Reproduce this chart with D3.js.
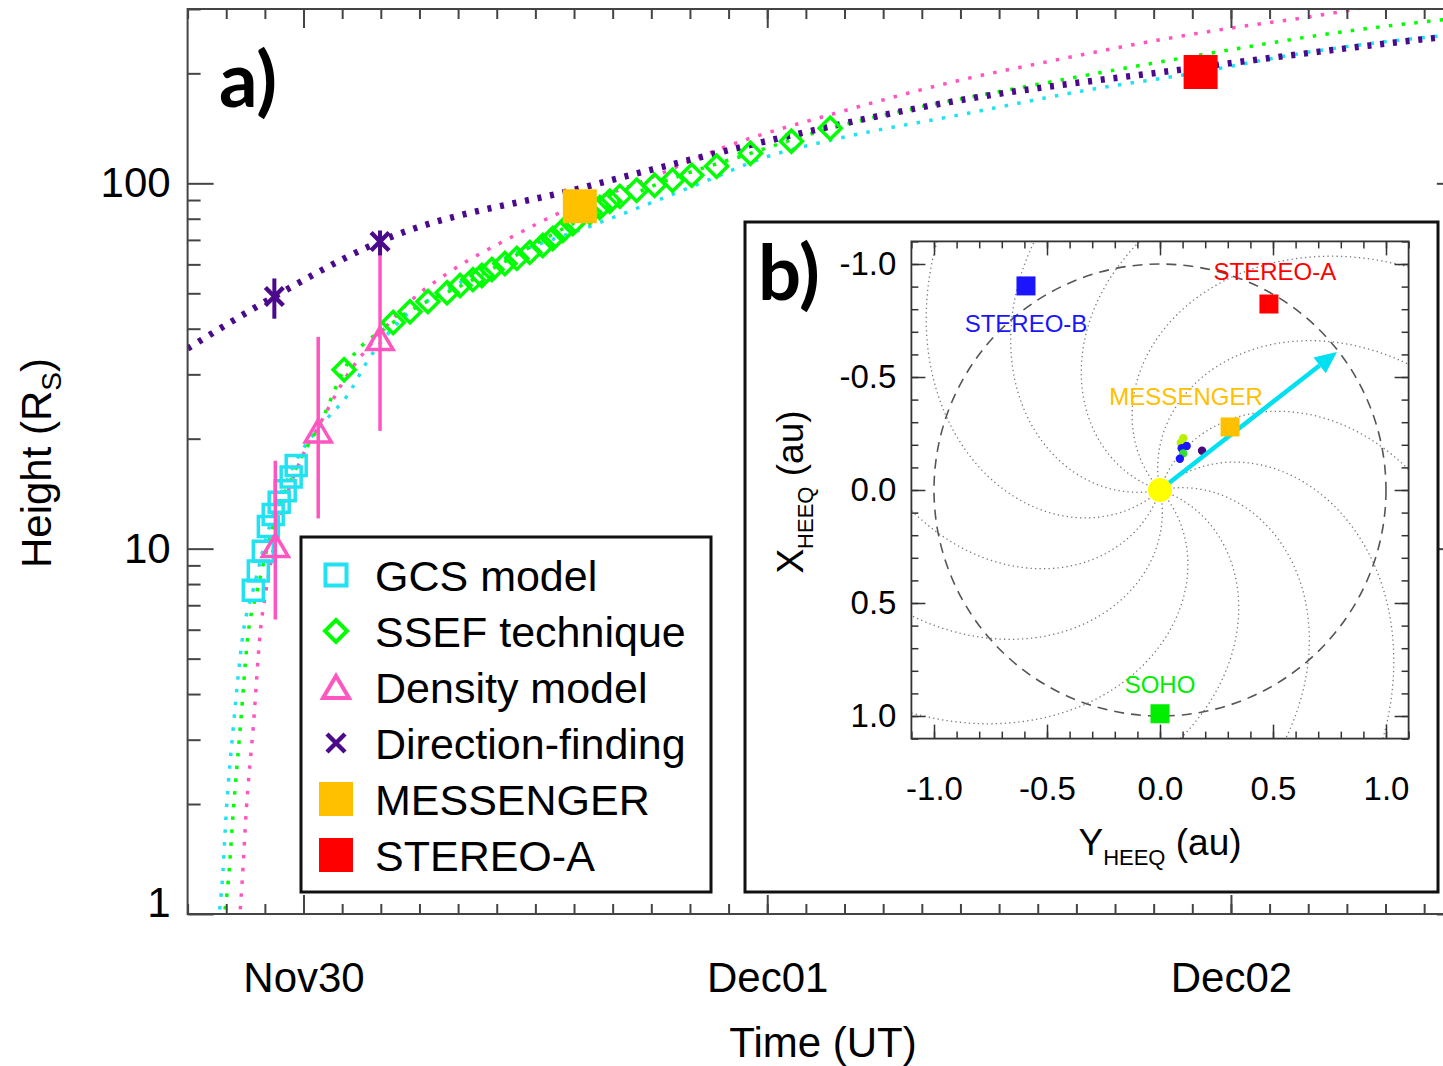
<!DOCTYPE html>
<html>
<head>
<meta charset="utf-8">
<script src="https://cdn.jsdelivr.net/npm/d3@7"></script>
<style>
body{margin:0;background:#fff;}
svg{display:block;font-family:"Liberation Sans",Arial,Helvetica,sans-serif;}
</style>
</head>
<body>
<svg id="chart" width="1443" height="1066"></svg>
<script>
// time is hours after 2013-11-30 00:00 UT, height in solar radii
var gcsData = [[-2.60,7.69],[-2.34,8.68],[-2.08,9.84],[-1.82,11.5],[-1.57,12.4],[-1.26,13.4],[-0.95,14.4],[-0.64,15.7],[-0.38,16.9]];
var ssefData = [[2.10,30.9],[4.64,41.6],[5.51,44.5],[6.44,47.5],[7.43,50.2],[8.10,52.5],[8.77,54.5],[9.23,55.9],[9.75,58.1],
  [10.42,60.3],[11.04,62.3],[11.71,64.7],[12.38,67.6],[12.90,70.6],[13.42,74.3],[13.94,77.6],[14.82,83.2],[15.33,85.9],
  [15.85,89.3],[16.37,92.1],[17.24,95.7],[18.17,98.8],[19.10,101.9],[20.09,105.2],[21.38,111.3],[23.13,120.8],[25.25,130.3],[27.26,141.5]];
// [time, height, low, high]
var densityData = [[-1.46,10.2,6.4,17.4],[0.76,21.0,12.1,38.0],[3.96,37.6,21.0,72.9]];
var dfData = [[-1.51,49.0,42.6,54.9],[3.96,69.3,63.5,74.3]];
var messengerData = [[14.30,86.5]];
var stereoAData = [[46.43,201.6]];

// fitted curves
var gcsFit = [[-4.42,0.95],[-4.20,1.24],[-3.99,1.93],[-3.63,3.26],[-3.12,5.90],[-2.60,7.74],[-1.72,11.7],[-0.38,17.4],[1.22,22.7],
  [2.26,26.2],[3.29,32.5],[5.00,42.1],[7.58,51.5],[10.16,61.5],[14.96,76.7],[18.58,91.0],[21.16,103.2],[23.75,117.1],
  [27.72,132.8],[33.92,153.8],[41.16,182.2],[45.45,197.7],[52.37,230.1],[58.88,253.1],[60.0,256.0]];
var ssefFit = [[-4.16,0.95],[-3.89,1.24],[-3.63,1.93],[-3.27,3.26],[-2.86,5.90],[-2.44,7.50],[-1.62,11.3],[-0.27,17.1],[0.86,22.0],
  [2.10,30.9],[4.64,41.6],[8.77,54.5],[13.94,77.6],[18.17,98.8],[23.13,120.8],[27.26,141.5],[30.98,157.7],[37.54,184.6],
  [46.69,225.9],[54.08,261.2],[58.88,280.0],[60.0,284.0]];
var densityFit = [[-3.32,0.95],[-3.17,1.24],[-2.96,1.93],[-2.60,3.26],[-2.24,5.90],[-1.93,7.74],[-1.21,12.05],[-0.17,17.4],[0.76,21.5],
  [2.15,29.2],[3.96,38.8],[5.67,48.3],[7.43,56.6],[10.84,71.6],[13.42,83.8],[17.40,100.6],[21.79,125.6],[27.73,156.6],
  [33.57,189.3],[38.94,217.5],[44.27,246.8],[48.04,266.2],[52.38,287.3],[55.11,303.9]];
var dfFit = [[-6.0,35.3],[-1.51,49.0],[3.96,69.3],[14.30,96.9],[23.95,130.4],[33.41,166.8],[45.65,205.5],[58.57,250.0],[60.0,254.8]];

var xMajor = [0, 24, 48];
var xLabels = ['Nov30', 'Dec01', 'Dec02'];
var yMajor = [1, 10, 100];
var yMinor = [2,3,4,5,6,7,8,9,20,30,40,50,60,70,80,90,200,300];

var legendNames = ['GCS model', 'SSEF technique', 'Density model', 'Direction-finding', 'MESSENGER', 'STEREO-A'];

// inset b) positions in HEEQ [Y, X] au
var craftNames = ['STEREO-B', 'STEREO-A', 'MESSENGER', 'SOHO'];
var craftPos = [[-0.593,-0.903],[0.482,-0.823],[0.310,-0.279],[0.0,0.99]];
var craftColors = ['#1a14ff', '#ff0000', '#ffc000', '#00ee00'];
var cmeDirection = [0.783, -0.611];
var dotPos = [[0.103,-0.229],[0.092,-0.209],[0.096,-0.185],[0.118,-0.195],[0.103,-0.162],[0.088,-0.138],[0.186,-0.174]];
var dotColors = ['#b8f000','#b8f000','#1a14ff','#1a14ff','#33dd33','#1a14ff','#4b0a7a'];
var spiralStarts = [12,42,72,102,132,162,192,222,252,282,312,342];
var insetTicks = [-1.0,-0.5,0.0,0.5,1.0];

var C = {gcs:'#22e2f2', ssef:'#00ff00', dens:'#ff55c0', df:'#4b0a8c', mes:'#ffc000', sta:'#ff0000'};

var svg = d3.select('#chart');

function sqPath(s){ return 'M'+(-s/2)+','+(-s/2)+'h'+s+'v'+s+'h'+(-s)+'Z'; }
function diaPath(s){ return 'M0,'+(-s)+'L'+s+',0L0,'+s+'L'+(-s)+',0Z'; }
function triPath(w,h){ return 'M0,'+(-h/2)+'L'+(w/2)+','+(h/2)+'L'+(-w/2)+','+(h/2)+'Z'; }
function crossPath(s){ return 'M'+(-s)+','+(-s)+'L'+s+','+s+'M'+(-s)+','+s+'L'+s+','+(-s); }

// ---------- panel a ----------
var x = d3.scaleLinear().domain([-6, 60]).range([187.6, 1462.8]);
var y = d3.scaleLog().domain([1, 300]).range([914, 9]);

svg.append('clipPath').attr('id','clipA').append('rect')
    .attr('x', x(-6)).attr('y', y(300)).attr('width', x(60)-x(-6)).attr('height', y(1)-y(300));

var plot = svg.append('g').attr('clip-path','url(#clipA)');

var line = d3.line().x(function(d){ return x(d[0]); }).y(function(d){ return y(d[1]); }).curve(d3.curveMonotoneX);

[[densityFit, C.dens],[gcsFit, C.gcs],[ssefFit, C.ssef]].forEach(function(f){
    plot.append('path').attr('d', line(f[0])).attr('fill','none')
        .attr('stroke', f[1]).attr('stroke-width', 3.5).attr('stroke-dasharray','3.5,9.3');
});
plot.append('path').attr('d', line(dfFit)).attr('fill','none')
    .attr('stroke', C.df).attr('stroke-width', 6.5).attr('stroke-dasharray','4,8.8');

// markers
plot.selectAll('.gcs').data(gcsData).enter().append('path')
    .attr('d', sqPath(20)).attr('transform', function(d){ return 'translate('+x(d[0])+','+y(d[1])+')'; })
    .attr('fill','none').attr('stroke', C.gcs).attr('stroke-width', 3.5);

plot.selectAll('.ssef').data(ssefData).enter().append('path')
    .attr('d', diaPath(11)).attr('transform', function(d){ return 'translate('+x(d[0])+','+y(d[1])+')'; })
    .attr('fill','none').attr('stroke', C.ssef).attr('stroke-width', 3.5);

plot.selectAll('.densbar').data(densityData).enter().append('line')
    .attr('x1', function(d){ return x(d[0]); }).attr('x2', function(d){ return x(d[0]); })
    .attr('y1', function(d){ return y(d[2]); }).attr('y2', function(d){ return y(d[3]); })
    .attr('stroke', C.dens).attr('stroke-width', 3.5);
plot.selectAll('.dens').data(densityData).enter().append('path')
    .attr('d', triPath(26, 22)).attr('transform', function(d){ return 'translate('+x(d[0])+','+y(d[1])+')'; })
    .attr('fill','none').attr('stroke', C.dens).attr('stroke-width', 3.5).attr('stroke-linejoin','miter');

plot.selectAll('.dfbar').data(dfData).enter().append('line')
    .attr('x1', function(d){ return x(d[0]); }).attr('x2', function(d){ return x(d[0]); })
    .attr('y1', function(d){ return y(d[2]); }).attr('y2', function(d){ return y(d[3]); })
    .attr('stroke', C.df).attr('stroke-width', 4);
plot.selectAll('.df').data(dfData).enter().append('path')
    .attr('d', crossPath(9)).attr('transform', function(d){ return 'translate('+x(d[0])+','+y(d[1])+')'; })
    .attr('fill','none').attr('stroke', C.df).attr('stroke-width', 4.5);

plot.selectAll('.mes').data(messengerData).enter().append('path')
    .attr('d', sqPath(34)).attr('transform', function(d){ return 'translate('+x(d[0])+','+y(d[1])+')'; })
    .attr('fill', C.mes);
plot.selectAll('.sta').data(stereoAData).enter().append('path')
    .attr('d', sqPath(34)).attr('transform', function(d){ return 'translate('+x(d[0])+','+y(d[1])+')'; })
    .attr('fill', C.sta);

// axes of panel a
function styleAxis(g){
    g.select('.domain').remove();
    g.selectAll('.tick line').attr('stroke','#444').attr('stroke-width',2);
    g.selectAll('.tick text').attr('fill','#000').attr('font-size',42).attr('font-family','"Liberation Sans",Arial,sans-serif');
}
var xMinor = d3.range(-6, 61, 2);
svg.append('g').attr('transform','translate(0,'+y(1)+')')
    .call(d3.axisBottom(x).tickValues(xMinor).tickSize(-10).tickFormat('')).call(styleAxis);
svg.append('g').attr('transform','translate(0,'+y(1)+')')
    .call(d3.axisBottom(x).tickValues(xMajor).tickSize(-19).tickPadding(48)
        .tickFormat(function(d,i){ return xLabels[i]; })).call(styleAxis);
svg.append('g').attr('transform','translate(0,'+y(300)+')')
    .call(d3.axisTop(x).tickValues(xMinor).tickSize(-10).tickFormat('')).call(styleAxis);
svg.append('g').attr('transform','translate(0,'+y(300)+')')
    .call(d3.axisTop(x).tickValues(xMajor).tickSize(-19).tickFormat('')).call(styleAxis);

svg.append('g').attr('transform','translate('+x(-6)+',0)')
    .call(d3.axisLeft(y).tickValues(yMinor).tickSize(-13).tickFormat('')).call(styleAxis);
var yl = svg.append('g').attr('transform','translate('+x(-6)+',0)')
    .call(d3.axisLeft(y).tickValues(yMajor).tickSize(-26).tickPadding(17).tickFormat(d3.format('d'))).call(styleAxis);
yl.selectAll('.tick text').filter(function(d){ return d === 1; }).attr('dy','0.05em');
svg.append('g').attr('transform','translate('+x(60)+',0)')
    .call(d3.axisRight(y).tickValues(yMinor).tickSize(-13).tickFormat('')).call(styleAxis);
svg.append('g').attr('transform','translate('+x(60)+',0)')
    .call(d3.axisRight(y).tickValues(yMajor).tickSize(-26).tickFormat('')).call(styleAxis);

svg.append('rect').attr('x', x(-6)).attr('y', y(300)).attr('width', x(60)-x(-6)).attr('height', y(1)-y(300))
    .attr('fill','none').attr('stroke','#444').attr('stroke-width',2);

// axis titles
svg.append('text').attr('x', 823).attr('y', 1057).attr('text-anchor','middle')
    .attr('font-size', 42).text('Time (UT)');
var yt = svg.append('text').attr('transform','translate(51,463) rotate(-90)').attr('text-anchor','middle')
    .attr('font-size', 42);
yt.append('tspan').text('Height (R');
yt.append('tspan').attr('font-size', 28).attr('dy', 10).text('S');
yt.append('tspan').attr('dy', -10).text(')');

svg.append('text').attr('x', 219).attr('y', 107).attr('font-family','Lato, "Open Sans", sans-serif')
    .attr('font-weight', 'bold').attr('font-size', 76).text('a)');

// legend
svg.append('rect').attr('x', 301).attr('y', 537).attr('width', 410).attr('height', 355)
    .attr('fill','#fff').attr('stroke','#111').attr('stroke-width', 3);
var ly = d3.scaleLinear().domain([0, 5]).range([575, 855]);
var legendShapes = [
    {d: sqPath(21), fill:'none', stroke:C.gcs, w:4},
    {d: diaPath(11), fill:'none', stroke:C.ssef, w:4},
    {d: triPath(26,22), fill:'none', stroke:C.dens, w:4},
    {d: crossPath(9), fill:'none', stroke:C.df, w:4.5},
    {d: sqPath(34), fill:C.mes, stroke:'none', w:0},
    {d: sqPath(34), fill:C.sta, stroke:'none', w:0}
];
legendNames.forEach(function(name, i){
    var s = legendShapes[i];
    svg.append('path').attr('d', s.d).attr('transform','translate(336,'+ly(i)+')')
        .attr('fill', s.fill).attr('stroke', s.stroke).attr('stroke-width', s.w);
    svg.append('text').attr('x', 375).attr('y', ly(i) + 16).attr('font-size', 43).text(name);
});

// ---------- panel b ----------
svg.append('rect').attr('x', 745).attr('y', 222).attr('width', 693).attr('height', 670)
    .attr('fill','#fff').attr('stroke','#111').attr('stroke-width', 3);

var sx = d3.scaleLinear().domain([-1.1, 1.1]).range([911.4, 1408.6]);
var sy = d3.scaleLinear().domain([-1.1, 1.1]).range([241.4, 738.6]);

svg.append('clipPath').attr('id','clipB').append('rect')
    .attr('x', sx(-1.1)).attr('y', sy(-1.1)).attr('width', sx(1.1)-sx(-1.1)).attr('height', sy(1.1)-sy(-1.1));
var inset = svg.append('g').attr('clip-path','url(#clipB)');

// Parker spirals, 400 km/s -> about 61 deg of winding per au
var winding = 61;
var spiralLine = d3.line().x(function(p){ return sx(p[0]); }).y(function(p){ return sy(p[1]); });
spiralStarts.forEach(function(a0){
    var pts = d3.range(0, 1.62, 0.01).map(function(r){
        var a = (a0 - winding * r) * Math.PI / 180;
        return [r * Math.cos(a), -r * Math.sin(a)];
    });
    inset.append('path').attr('d', spiralLine(pts)).attr('fill','none')
        .attr('stroke','#777').attr('stroke-width', 1.3).attr('stroke-dasharray','1.3,3.2');
});

inset.append('circle').attr('cx', sx(0)).attr('cy', sy(0)).attr('r', sx(1) - sx(0))
    .attr('fill','none').attr('stroke','#555').attr('stroke-width', 1.6).attr('stroke-dasharray','10,7');

inset.selectAll('.dot').data(dotPos).enter().append('circle')
    .attr('cx', function(d){ return sx(d[0]); }).attr('cy', function(d){ return sy(d[1]); })
    .attr('r', 4.2).attr('fill', function(d,i){ return dotColors[i]; });

// CME direction arrow
var ax0 = sx(0), ay0 = sy(0), ax1 = sx(cmeDirection[0]), ay1 = sy(cmeDirection[1]);
var ang = Math.atan2(ay1 - ay0, ax1 - ax0);
var hl = 22, hw = 10;
var bx = ax1 - hl * Math.cos(ang), by = ay1 - hl * Math.sin(ang);
inset.append('line').attr('x1', ax0).attr('y1', ay0).attr('x2', bx).attr('y2', by)
    .attr('stroke','#00e0f0').attr('stroke-width', 4.5);
inset.append('path').attr('d', 'M'+ax1+','+ay1+'L'+(bx - hw*Math.sin(ang))+','+(by + hw*Math.cos(ang))+
        'L'+(bx + hw*Math.sin(ang))+','+(by - hw*Math.cos(ang))+'Z').attr('fill','#00e0f0');

inset.append('circle').attr('cx', sx(0)).attr('cy', sy(0)).attr('r', 12).attr('fill','#ffff00');

var labelOffsets = [[0, 46], [6, -24], [-44, -22], [0, -21]];
craftNames.forEach(function(name, i){
    var px = sx(craftPos[i][0]), py = sy(craftPos[i][1]);
    inset.append('path').attr('d', sqPath(19)).attr('transform','translate('+px+','+py+')').attr('fill', craftColors[i]);
    inset.append('text').attr('x', px + labelOffsets[i][0]).attr('y', py + labelOffsets[i][1])
        .attr('text-anchor','middle').attr('font-size', 24).attr('fill', craftColors[i]).text(name);
});

function styleInset(g){
    g.select('.domain').remove();
    g.selectAll('.tick line').attr('stroke','#333').attr('stroke-width',1.5);
    g.selectAll('.tick text').attr('fill','#000').attr('font-size',33).attr('font-family','"Liberation Sans",Arial,sans-serif');
}
var minorB = d3.range(-11, 12).map(function(i){ return i / 10; });
var fmt = function(d){ return d.toFixed(1); };
[['b', sy(1.1)], ['t', sy(-1.1)]].forEach(function(s){
    var mk = s[0] === 'b' ? d3.axisBottom : d3.axisTop;
    svg.append('g').attr('transform','translate(0,'+s[1]+')')
        .call(mk(sx).tickValues(minorB).tickSize(-7).tickFormat('')).call(styleInset);
    svg.append('g').attr('transform','translate(0,'+s[1]+')')
        .call(mk(sx).tickValues(insetTicks).tickSize(-14).tickPadding(38).tickFormat(s[0] === 'b' ? fmt : '')).call(styleInset);
});
[['l', sx(-1.1)], ['r', sx(1.1)]].forEach(function(s){
    var mk = s[0] === 'l' ? d3.axisLeft : d3.axisRight;
    svg.append('g').attr('transform','translate('+s[1]+',0)')
        .call(mk(sy).tickValues(minorB).tickSize(-7).tickFormat('')).call(styleInset);
    svg.append('g').attr('transform','translate('+s[1]+',0)')
        .call(mk(sy).tickValues(insetTicks).tickSize(-14).tickPadding(15).tickFormat(s[0] === 'l' ? fmt : '')).call(styleInset);
});
svg.append('rect').attr('x', sx(-1.1)).attr('y', sy(-1.1)).attr('width', sx(1.1)-sx(-1.1)).attr('height', sy(1.1)-sy(-1.1))
    .attr('fill','none').attr('stroke','#333').attr('stroke-width', 1.8);

var bxT = svg.append('text').attr('x', 1160).attr('y', 855).attr('text-anchor','middle').attr('font-size', 37);
bxT.append('tspan').text('Y');
bxT.append('tspan').attr('font-size', 22).attr('dy', 10).text('HEEQ');
bxT.append('tspan').attr('dy', -10).text(' (au)');
var byT = svg.append('text').attr('transform','translate(803,492) rotate(-90)').attr('text-anchor','middle').attr('font-size', 37);
byT.append('tspan').text('X');
byT.append('tspan').attr('font-size', 22).attr('dy', 10).text('HEEQ');
byT.append('tspan').attr('dy', -10).text(' (au)');

svg.append('text').attr('x', 758).attr('y', 300).attr('font-family','Lato, "Open Sans", sans-serif')
    .attr('font-weight', 'bold').attr('font-size', 76).text('b)');
</script>
</body>
</html>
